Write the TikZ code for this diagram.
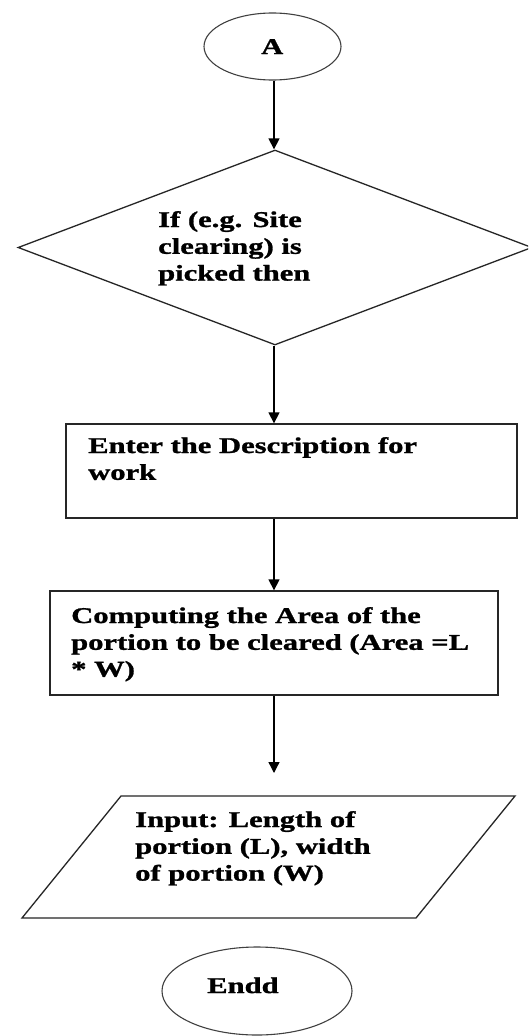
\documentclass[tikz,border=0pt]{standalone}
\usepackage{fontspec}
\newfontfamily\fcfont[FakeStretch=1.36, BoldFeatures={FakeBold=1.2}]{Liberation Serif}
\usetikzlibrary{shapes.geometric,arrows.meta}
\begin{document}
\begin{tikzpicture}[x=1pt,y=-1pt,
  shapeline/.style={draw=black!85, line width=1.3pt},
  thinline/.style={draw=black!75, line width=1.1pt},
  txt/.style={inner sep=0pt, anchor=base west,
    font=\fcfont\bfseries\fontsize{22.5}{26.8}\selectfont},
  flow/.style={line width=1.3pt, -{Triangle[width=11pt,length=11pt]}}]
\clip (0,0) rectangle (528,1036);
\fill[white] (0,0) rectangle (528,1036);
% shapes
\node[thinline, ellipse, minimum width=137pt, minimum height=67pt, inner sep=0pt] (a) at (272.5,46.5) {};
\node[shapeline, diamond, minimum width=514pt, minimum height=195pt, inner sep=0pt] (dec) at (275,247.5) {};
\node[shapeline, rectangle, minimum width=451pt, minimum height=94pt, inner sep=0pt] (desc) at (291.5,471) {};
\node[shapeline, rectangle, minimum width=448pt, minimum height=104pt, inner sep=0pt] (comp) at (274,643) {};
\coordinate (pa) at (121,796);
\coordinate (pb) at (515,796);
\coordinate (pc) at (416,918);
\coordinate (pd) at (22,918);
\draw[shapeline] (pa) -- (pb) -- (pc) -- (pd) -- cycle;
\coordinate (inEnd) at (274,773);
\node[thinline, ellipse, minimum width=190pt, minimum height=88pt, inner sep=0pt] (endd) at (257,991) {};
% texts
\node[txt] (ta) at (261,54) {A};
\node[txt] (tdec) at (158,227) {\vtop{\hbox{If (e.g. Site}\hbox{clearing) is}\hbox{picked then}}};
\node[txt] (tdesc) at (88,453) {\vtop{\hbox{Enter the Description for}\hbox{work}}};
\node[txt] (tcomp) at (71,623) {\vtop{\hbox{Computing the Area of the}\hbox{portion to be cleared (Area =L}\hbox{* W)}}};
\node[txt] (tin) at (135,827) {\vtop{\hbox{Input: Length of}\hbox{portion (L), width}\hbox{of portion (W)}}};
\node[txt] (tend) at (207,993) {Endd};
% connectors
\draw[flow] (a.south -| 274,0) -- (dec.north -| 274,0);
\draw[flow] (dec.south -| 274,0) -- (desc.north -| 274,0);
\draw[flow] (desc.south -| 274,0) -- (comp.north -| 274,0);
\draw[flow] (comp.south) -- (inEnd);
\end{tikzpicture}
\end{document}
